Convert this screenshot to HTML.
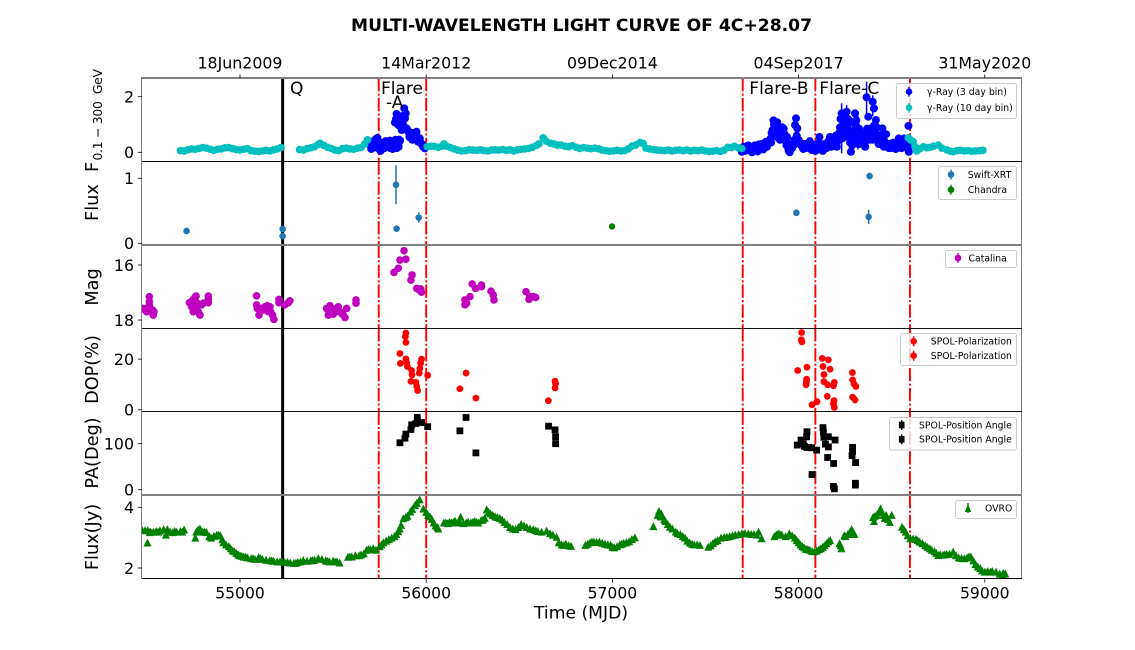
<!DOCTYPE html>
<html lang="en">
<head>
<meta charset="utf-8">
<title>Multi-wavelength light curve of 4C+28.07</title>
<style>
html,body{margin:0;padding:0;background:#fff;}
svg{display:block;font-family:"DejaVu Sans","Liberation Sans",sans-serif;filter:blur(0.35px);}
</style>
</head>
<body>
<svg id="chart" xmlns="http://www.w3.org/2000/svg" width="1135" height="650" viewBox="0 0 1135 650">
<rect width="1135" height="650" fill="#fff"/>
<text x="581.5" y="31" text-anchor="middle" font-size="17" font-weight="bold" textLength="461" lengthAdjust="spacingAndGlyphs">MULTI-WAVELENGTH LIGHT CURVE OF 4C+28.07</text>
<defs id="defs"></defs>
<g id="layers"></g>
<g id="axes"></g>
<g font-size="17.7" fill="#000">
<text transform="translate(98,172) rotate(-90)" font-size="17.7">F</text>
<text transform="translate(102,160.5) rotate(-90)" font-size="12.4" textLength="91.5" xml:space="preserve">0.1 − 300  GeV</text>
<text transform="translate(98,202.6) rotate(-90)" text-anchor="middle">Flux</text>
<text transform="translate(98,287) rotate(-90)" text-anchor="middle">Mag</text>
<text transform="translate(98,369.5) rotate(-90)" text-anchor="middle">DOP(%)</text>
<text transform="translate(98,453) rotate(-90)" text-anchor="middle">PA(Deg)</text>
<text transform="translate(98,537) rotate(-90)" text-anchor="middle">Flux(Jy)</text>
</g>
<text x="581" y="618.5" text-anchor="middle" font-size="17.2">Time (MJD)</text>
<g font-size="17" fill="#000">
<text x="290" y="94">Q</text>
<text x="381" y="94">Flare</text>
<text x="386" y="108">-A</text>
<text x="749.3" y="94">Flare-B</text>
<text x="819.3" y="94">Flare-C</text>
</g>
<g id="legends"></g>
</svg>
<script>
// ---------- Data ----------
const xTickValues=[55000,56000,57000,58000,59000];
const xTickLabels=['55000','56000','57000','58000','59000'];
const topTickLabels=['18Jun2009','14Mar2012','09Dec2014','04Sep2017','31May2020'];
const gammaTicks=[0,2];
const swiftTicks=[0,1];
const magTicks=[16,18];
const dopTicks=[0,20];
const paTicks=[0,100];
const radioTicks=[2,4];
const quiescentEpochs=[55229];
const flareEdges=[55745,56000,57700,58090,58598];

const gammaTenMjd=[54680,54700,54720,54740,54760,54780,54800,54820,54840,54860,54880,54900,54920,54940,54960,54980,55000,55020,55040,55060,55080,55100,55120,55140,55160,55180,55200,55220,
55320,55340,55360,55380,55400,55420,55430,55450,55470,55490,55510,55530,55550,55570,55590,55610,55630,55650,55670,55685,
56005,56025,56045,56065,56085,56095,56110,56130,56150,56170,56190,56210,56230,56250,56270,56290,56310,56330,56350,56370,56390,56410,56430,56450,56470,56490,56510,56530,56550,56570,56590,56605,56628,56645,56665,56685,56705,56725,56745,56765,56785,56805,56825,56845,56865,56885,56905,56925,56945,56965,56985,57005,57025,57045,57065,57085,57105,57125,57148,57165,57180,57200,57220,57240,57260,57280,57300,57320,57340,57360,57380,57400,57420,57440,57460,57480,57500,57520,57540,57560,57580,57600,57620,57640,57655,57675,57695,
58589,58600,58616,58625,58634,58650,58670,58690,58706,58725,58750,58770,58795,58815,58831,58850,58870,58890,58910,58930,58950,58974,58990];
const gammaTenFlux=[.06,.05,.09,.12,.11,.14,.17,.15,.11,.07,.11,.12,.16,.17,.13,.10,.08,.11,.13,.06,.04,.03,.05,.07,.05,.09,.12,.17,
.10,.08,.13,.16,.20,.28,.33,.25,.18,.14,.08,.06,.13,.15,.12,.11,.15,.17,.30,.45,
.2,.22,.21,.18,.22,.3,.22,.17,.12,.08,.05,.06,.09,.08,.07,.09,.06,.05,.08,.09,.08,.10,.07,.09,.05,.09,.11,.12,.14,.18,.24,.30,.52,.40,.33,.30,.26,.26,.22,.20,.24,.18,.14,.17,.15,.13,.15,.13,.08,.06,.04,.05,.07,.05,.06,.12,.22,.26,.35,.32,.15,.12,.10,.08,.07,.06,.08,.05,.07,.08,.06,.08,.05,.07,.06,.08,.05,.03,.04,.06,.03,.08,.18,.17,.22,.16,.14,
.52,.45,.38,.20,.05,.12,.20,.16,.18,.22,.26,.15,.09,.04,.02,.06,.07,.05,.06,.04,.05,.06,.07];

const gammaThreeMjd=[55700,55705,55710,55718,55725,55730,55738,55745,55750,55755,55760,55768,55775,55782,55790,55797,55805,55812,55820,55828,55835,55842,55850,55855,
55832,55841,55850,55859,55868,55882,55886,55895,55905,55913,55922,55931,55940,55948,55957,55966,55975,55984,55993,
57695,57705,57712,57720,57730,57740,57750,57760,57770,57780,57790,57800,57810,57820,57830,57840,57850,57855,57860,57865,57872,57878,57885,57890,57897,57905,57912,57920,57930,57938,57945,57952,57960,57968,57975,57981,57986,57993,58000,58010,58020,58030,58040,58050,58060,58070,58080,58090,58100,58105,58112,58120,58130,58140,58150,58160,58168,58175,58185,58190,
58195,58205,58215,58222,58228,58231,58235,58240,58245,58249,58252,58258,58262,58268,58272,58276,58281,58285,58290,58296,58303,58310,58315,58320,58325,58332,58338,58345,58352,58358,58362,58365,58368,58374,58378,58384,58390,58395,58398,58403,58405,58410,58415,58420,58426,58432,58438,58444,58450,58455,58462,58470,58478,58485,58492,58500,58508,58515,58522,58530,58538,58545,58552,58560,58568,58575,58582,58588,58590,58592,58595,
55702,55712,55722,55735,55742,55748,55758,55765,55772,55778,55785,55793,55800,55808,55815,55825,55832,55845,55852,55860,55900,55910,55920,55925,55935,55945,55952,55960,55970,55980,55990,55875,55870,55890,55845,55838,
57698,57708,57716,57725,57735,57745,57755,57765,57775,57785,57795,57805,57815,57825,57835,57845,57852,57858,57868,57875,57882,57893,57900,57908,57915,57925,57935,57942,57948,57956,57965,57972,57978,57990,57996,58005,58015,58025,58035,58045,58055,58065,58075,58085,58095,58110,58117,58125,58135,58145,58155,58165,58172,58180,
58200,58210,58218,58225,58238,58243,58255,58265,58270,58279,58288,58293,58300,58306,58313,58318,58328,58335,58342,58348,58355,58360,58372,58381,58387,58392,58400,58408,58418,58424,58430,58436,58442,58448,58458,58466,58474,58482,58488,58496,58504,58512,58518,58526,58534,58542,58549,58556,58564,58572,58579,58585];
const gammaThreeFlux=[.25,.12,.30,.40,.18,.48,.52,.30,.10,.05,.20,.35,.15,.40,.30,.20,.42,.25,.12,.38,.45,.15,.30,.45,
1.07,1.38,.98,1.16,.80,1.58,1.22,.86,.72,.62,.70,.56,.48,.74,.38,.50,.30,.20,.14,
.02,.20,.05,.15,.25,.10,.00,.20,.10,.03,.20,.30,.10,.35,.20,.40,.50,.70,.80,1.15,1.10,.95,1.08,.75,.60,.65,.90,.85,.40,.55,.10,.00,.20,.30,.40,.98,1.22,.86,.45,.35,.20,.30,.15,.30,.40,.08,.20,.05,.30,.10,.55,.20,.05,.30,.15,.40,.55,.20,.35,.25,
.30,.20,.55,.90,.75,1.40,.50,1.10,.80,1.16,.60,1.46,.90,.55,1.05,.35,.02,.70,.40,1.10,1.40,1.15,.65,.30,.85,.50,.35,.70,.45,.20,.55,1.98,.85,1.28,.60,.70,.85,.45,1.82,.95,1.58,.70,1.16,.90,.55,.45,.30,.60,.86,.30,.40,.65,.25,.15,.30,.18,.35,.20,.12,.30,.50,.20,.15,.38,.50,.28,.18,.35,.95,.02,.20,
.35,.2,.3,.35,.15,.3,.3,.12,.28,.3,.2,.38,.35,.15,.35,.25,.3,.4,.2,.42,.8,.55,.6,.45,.5,.6,.55,.45,.35,.28,.2,1.0,1.3,1.4,1.1,1.2,
.1,.1,.2,.08,.18,.12,.15,.25,.12,.28,.15,.3,.25,.38,.3,.45,.35,.55,1.0,.8,.75,.5,.45,.75,.55,.65,.25,.3,.05,.12,.15,.25,.45,.6,.35,.3,.25,.12,.22,.3,.2,.15,.28,.15,.15,.2,.3,.12,.18,.25,.3,.2,.4,.3,
.6,.4,.7,1.2,.85,1.35,.75,1.2,.7,.5,.25,.6,.8,1.0,.4,.55,.3,.65,.4,.55,.35,.7,.75,.45,.5,.65,.6,.8,.65,.4,.3,.5,.35,.55,.2,.25,.3,.3,.22,.15,.25,.3,.15,.22,.35,.3,.25,.28,.18,.35,.2,.25];
const gammaBarMjd=[58231,58258,58319,58365,58398,55838];
const gammaBarLow=[-.04,.90,.10,1.28,1.30,.90];
const gammaBarHigh=[1.76,1.70,1.30,2.54,2.05,1.25];

const swiftMjd=[54713,55229,55229,55838,55841,55960,57988,58381,58376];
const swiftFlux=[.19,.22,.11,.90,.225,.395,.47,1.035,.405];
const swiftErr=[.03,.02,.02,.30,.02,.08,.05,.05,.11];
const chandraMjd=[56998];
const chandraFlux=[.26];

const catalinaMjd=[54481,54490,54499,54508,54513,54513,54513,54531,54534,54538,54499,54485,
54728,54740,54749,54758,54764,54749,54767,54776,54785,54794,54803,54830,54830,54830,54770,54758,54740,
55089,55089,55093,55102,55107,55116,55125,55134,55147,55161,55165,55175,55182,55152,55209,55209,55241,55268,55260,
55465,55474,55483,55492,55501,55515,55528,55537,55546,55555,55564,55573,55474,55492,55519,55623,55623,
55827,55850,55859,55881,55891,55924,55918,55949,55963,55975,55970,
56208,56208,56217,56235,56247,56265,56297,56297,56348,56360,56364,
56536,56552,56575,56588,56556];
const catalinaMag=[17.58,17.64,17.70,17.58,17.33,17.15,17.45,17.64,17.82,17.70,17.67,17.60,
17.37,17.33,17.25,17.18,17.13,17.70,17.58,17.70,17.82,17.45,17.39,17.13,17.25,17.37,17.39,17.52,17.52,
17.12,17.45,17.58,17.82,17.64,17.58,17.64,17.52,17.48,17.52,17.70,17.82,17.98,17.70,17.25,17.37,17.45,17.30,17.37,
17.58,17.82,17.48,17.70,17.79,17.70,17.52,17.70,17.76,17.82,17.91,17.58,17.64,17.58,17.58,17.27,17.39,
16.27,16.12,15.82,15.48,15.79,16.36,16.55,16.85,16.91,16.99,16.87,
17.27,17.45,17.39,17.15,16.69,16.85,16.79,16.73,16.95,17.09,17.27,
16.97,17.25,17.15,17.18,17.15];

const dopMjd=[55891,55888,55891,55859,55861,55891,55895,55899,55922,55924,55918,55945,55949,55954,55975,55970,55966,55963,56008,56181,56214,56267,56656,56692,56695,56692,
58016,58015,58018,57995,58045,58043,58040,58042,58072,58099,58127,58160,58131,58169,58136,58136,58156,58192,58187,58154,58190,58187,58192,58289,58290,58297,58308,58290,58303];
const dopValues=[30.3,28.9,26.6,22.2,18.3,20.1,18.6,17.1,15.5,13.8,11.2,10.8,9.2,7.6,20,18.4,16.4,14.5,13.6,8.3,14.5,4.6,3.6,11.3,10.3,8.6,
30.5,27.6,26.8,15.5,16.8,12.1,9.9,11.1,2,3.2,20.3,19.7,17.1,16,13.9,11.1,9.9,10.8,9.5,5.3,3.6,2.4,.9,14.7,11.8,10.3,9.2,5,3.9];

const paMjd=[55859,55886,55891,55918,55922,55945,55952,55954,55975,56008,56181,56214,56267,56657,56692,56695,56695,
57993,58013,58045,58043,58043,58070,58097,58072,58131,58133,58136,58160,58196,58144,58160,58156,58188,58187,58192,58290,58290,58287,58306,58305,58305,58025,58032,58055];
const paValues=[102,112,121,131,141,144,157,149,146,137,128,157,80,138,130,115,100,
97,108,126,115,92,91,86,33,135,125,114,115,108,99,93,70,57,7,2,92,83,74,59,14,10,100,94,92];

const radioMjd=[54475,54490,54505,54503,54520,54535,54550,54570,54590,54602,54610,54625,54640,54660,54680,54700,
54760,54765,54775,54785,54800,54820,54845,54860,54875,54895,54910,54925,54940,54960,54980,55000,55020,55040,55060,55080,55100,55120,55140,55160,55180,55200,55225,55255,55290,55310,55340,55360,55380,55400,55420,55440,55460,55480,55500,55520,55535,
55580,55600,55620,55650,55665,55680,55700,55730,55750,55770,55800,55830,55850,55865,55877,55900,55915,55940,55965,55985,56000,56010,56030,56050,56060,56065,
56095,56115,56135,56155,56170,56185,56200,56215,56240,56260,56280,56295,56315,56325,56345,56370,56395,56420,56450,56480,56510,56540,56575,56600,56647,56680,56700,56727,56750,56778,
56855,56880,56900,56930,56960,56990,57010,57040,57060,57090,57121,
57220,57250,57262,57270,57285,57309,57350,57365,57390,57415,57440,57470,
57515,57540,57565,57600,57630,57660,57695,57730,57760,57785,57801,57870,57890,57910,57950,57980,58000,58020,58040,58060,58085,58110,58130,58150,58170,58220,58230,58245,58265,58285,58300,
58400,58410,58420,58440,58455,58470,58490,58500,58555,58575,58600,58630,58650,58680,58705,58740,58750,58775,58795,58830,58860,58890,58925,58950,58975,59000,59040,59080,59100,59110,
54515,54560,54650,54690,54810,54835,54885,54905,54950,54970,54990,55010,55030,55070,55110,55170,55215,55240,55270,55300,55325,55390,55470,55510,55590,55640,55690,55715,55760,55785,55815,55840,55858,55890,55925,55950,56020,56040,56105,56125,56145,56178,56225,56250,56270,56305,56335,56357,56382,56408,56435,56465,56495,56525,56558,56588,56620,56665,56712,56740,56765,
56868,56890,56915,56945,56975,57000,57025,57050,57075,57105,
57243,57258,57278,57297,57322,57340,57378,57402,57428,57455,57528,57552,57583,57615,57645,57678,57712,57745,57775,57880,57900,57930,57965,57990,58010,58030,58050,58072,58098,58120,58140,58160,58225,58252,58275,58292,
58405,58430,58448,58463,58480,58565,58585,58615,58640,58665,58692,58715,58730,58760,58785,58810,58845,58875,58905,58915,58938,58962,58985,59015,59030,59060,59095];
const radioFlux=[3.25,3.25,3.25,2.84,3.2,3.2,3.22,3.24,3.28,3.1,3.28,3.2,3.18,3.2,3.22,3.27,
3.0,3.2,3.27,3.3,3.2,3.18,3.0,3.06,3.1,3.07,2.85,2.78,2.72,2.58,2.5,2.42,2.38,2.35,2.32,2.3,2.36,2.3,2.27,2.26,2.24,2.22,2.22,2.2,2.17,2.2,2.26,2.24,2.25,2.27,2.33,2.3,2.25,2.22,2.24,2.22,2.18,
2.37,2.38,2.42,2.45,2.48,2.6,2.62,2.6,2.72,2.85,2.95,3.05,3.22,3.42,3.64,3.72,3.86,4.08,4.26,3.96,3.85,3.75,3.62,3.4,3.35,3.3,
3.5,3.48,3.5,3.56,3.5,3.69,3.48,3.5,3.5,3.55,3.5,3.58,3.65,3.93,3.8,3.7,3.65,3.52,3.35,3.28,3.45,3.35,3.28,3.22,3.23,3.1,3.03,2.78,2.8,2.73,
2.76,2.85,2.87,2.87,2.8,2.76,2.68,2.78,2.83,2.88,3.01,
3.38,3.88,3.8,3.7,3.55,3.36,3.15,3.12,3.0,2.84,2.78,2.76,
2.7,2.82,2.92,3.02,3.05,3.1,3.14,3.14,3.12,3.2,2.98,3.05,3.14,3.1,3.14,3.0,2.85,2.72,2.63,2.6,2.55,2.62,2.7,2.82,2.92,2.82,2.65,3.08,3.12,3.28,3.12,
3.68,3.72,3.75,3.96,3.75,3.75,3.52,3.75,3.36,3.2,2.98,2.96,2.87,2.75,2.65,2.5,2.43,2.44,2.46,2.54,2.35,2.32,2.38,2.13,2.0,1.88,1.9,1.82,1.84,1.82,
3.18,3.2,3.22,3.2,3.2,3.05,3.1,2.95,2.65,2.55,2.45,2.4,2.37,2.32,2.33,2.25,2.22,2.2,2.18,2.17,2.22,2.26,2.24,2.22,2.38,2.42,2.62,2.65,2.78,2.9,3.0,3.12,3.3,3.68,3.95,4.15,3.7,3.5,3.5,3.52,3.52,3.55,3.52,3.52,3.52,3.6,3.85,3.75,3.68,3.6,3.45,3.3,3.35,3.4,3.3,3.25,3.2,3.15,2.85,2.76,2.75,
2.8,2.87,2.86,2.83,2.78,2.7,2.72,2.8,2.85,2.95,
3.75,3.7,3.6,3.45,3.3,3.2,3.05,2.9,2.8,2.78,2.75,2.88,3.0,3.03,3.08,3.12,3.15,3.12,3.1,3.1,3.12,3.05,3.08,2.92,2.78,2.68,2.62,2.56,2.58,2.65,2.75,2.88,2.75,3.05,3.18,3.2,
3.55,3.85,3.85,3.65,3.62,3.28,3.08,2.97,2.92,2.82,2.7,2.6,2.55,2.45,2.45,2.47,2.42,2.33,2.35,2.38,2.25,2.05,1.92,1.9,1.88,1.88,1.8];

// ---------- Axis functions ----------
const SVGNS='http://www.w3.org/2000/svg';
const plotLeft=142, plotRight=1021;
function xScale(mjd){return 240+(mjd-55000)*0.1862;}
function yGamma(v){return 152.3-v*27.8;}
function ySwift(v){return 243.3-v*65;}
function yMag(v){return 265+(v-16)*27.5;}
function yDop(v){return 409.8-v*2.535;}
function yPa(v){return 489.7-v*0.46;}
function yRadio(v){return 568-(v-2)*30.35;}

function make(tag,parent,attrs){
  const el=document.createElementNS(SVGNS,tag);
  for(const k in attrs){el.setAttribute(k,attrs[k]);}
  parent.appendChild(el);
  return el;
}
const layers=document.getElementById('layers');
const axes=document.getElementById('axes');
const defs=document.getElementById('defs');
const legends=document.getElementById('legends');

function panelGroup(name,top,bottom){
  const id='clip-'+name;
  const cp=make('clipPath',defs,{id:id});
  make('rect',cp,{x:plotLeft,y:top,width:plotRight-plotLeft,height:bottom-top});
  const g=make('g',layers,{'clip-path':'url(#'+id+')'});
  
  
  return g;
}
const panelGamma=panelGroup('gamma-ray',78,161.5);
const panelSwift=panelGroup('x-ray',161.5,244.7);
const panelMag=panelGroup('optical',244.7,328.2);
const panelDop=panelGroup('polarization',328.2,411.4);
const panelPa=panelGroup('position-angle',411.4,495);
const panelRadio=panelGroup('radio',495,578.2);
const allPanels=[[panelGamma,78,161.5],[panelSwift,161.5,244.7],[panelMag,244.7,328.2],[panelDop,328.2,411.4],[panelPa,411.4,495],[panelRadio,495,578.2]];

// reference epochs in every panel
allPanels.forEach(function(p){
  flareEdges.forEach(function(m){
    const l=make('line',p[0],{x1:xScale(m),x2:xScale(m),y1:p[1],y2:p[2],stroke:'#ff0000','stroke-width':1.9,'stroke-dasharray':'13.3,2.3,2,2.3'});
    
    
  });
  quiescentEpochs.forEach(function(m){
    const l=make('line',p[0],{x1:xScale(m),x2:xScale(m),y1:p[1],y2:p[2],stroke:'#000','stroke-width':3});
    
    
  });
});

function dots(parent,xs,ys,yFn,color,r,name){
  xs.forEach(function(m,i){
    const c=make('circle',parent,{cx:xScale(m),cy:yFn(ys[i]),r:r,fill:color});
    
    
  });
}
function squares(parent,xs,ys,yFn,color,s,name){
  xs.forEach(function(m,i){
    const c=make('rect',parent,{x:xScale(m)-s/2,y:yFn(ys[i])-s/2,width:s,height:s,fill:color});
    
    
  });
}
function triangles(parent,xs,ys,yFn,color,s,name){
  xs.forEach(function(m,i){
    const px=xScale(m), py=yFn(ys[i]);
    const c=make('polygon',parent,{points:(px-s/2)+','+(py+s/2)+' '+(px+s/2)+','+(py+s/2)+' '+px+','+(py-s/2),fill:color});
    
    
  });
}

// Gamma ray
gammaBarMjd.forEach(function(m,i){
  const b=make('line',panelGamma,{x1:xScale(m),x2:xScale(m),y1:yGamma(gammaBarLow[i]),y2:yGamma(gammaBarHigh[i]),stroke:'#0000ff','stroke-width':1.5});
  
  
});
dots(panelGamma,gammaThreeMjd,gammaThreeFlux,yGamma,'#0000ff',4,'gamma-3day-point');
dots(panelGamma,gammaTenMjd,gammaTenFlux,yGamma,'#00bfbf',3.8,'gamma-10day-point');

// X-ray
swiftMjd.forEach(function(m,i){
  const b=make('line',panelSwift,{x1:xScale(m),x2:xScale(m),y1:ySwift(swiftFlux[i]-swiftErr[i]),y2:ySwift(swiftFlux[i]+swiftErr[i]),stroke:'#1f77b4','stroke-width':1.5});
  
  
});
dots(panelSwift,swiftMjd,swiftFlux,ySwift,'#1f77b4',3.3,'swift-xrt-point');
dots(panelSwift,chandraMjd,chandraFlux,ySwift,'#008000',3.2,'chandra-point');

// Optical / polarization
dots(panelMag,catalinaMjd,catalinaMag,yMag,'#bf00bf',3.8,'catalina-point');
dots(panelDop,dopMjd,dopValues,yDop,'#ff0000',3.4,'dop-point');
squares(panelPa,paMjd,paValues,yPa,'#000',6.8,'position-angle-point');

// Radio
triangles(panelRadio,radioMjd,radioFlux,yRadio,'#008000',8,'ovro-point');

// ---------- Frame, ticks, labels ----------
function spine(x,y,w,h,color,name){
  const r=make('rect',axes,{x:x,y:y,width:w,height:h,fill:color});
  
  
}
spine(141,77,1,502,'#808080','left-spine');
spine(142,77,880,2,'#808080','top-spine');
spine(1021,77,1,502,'#808080','right-spine');
spine(142,161,880,1,'#000','panel-divider-1');
spine(142,244,880,2,'#808080','panel-divider-2');
spine(142,328,880,1,'#111','panel-divider-3');
spine(142,411,880,1,'#111','panel-divider-4');
spine(142,494,880,2,'#808080','panel-divider-5');
spine(142,578,880,1,'#000','bottom-spine');

function yTicks(values,yFn,labels,name){
  values.forEach(function(v,i){
    const y=yFn(v);
    const t=make('line',axes,{x1:138,x2:142,y1:y,y2:y,stroke:'#000','stroke-width':.8});
    
    
    const txt=make('text',axes,{x:134,y:y+5.8,'text-anchor':'end','font-size':15.8});
    
    
    txt.textContent=labels[i];
  });
}
yTicks(gammaTicks,yGamma,gammaTicks,'gamma-axis');
yTicks(swiftTicks,ySwift,swiftTicks,'xray-axis');
yTicks(magTicks,yMag,magTicks,'magnitude-axis');
yTicks(dopTicks,yDop,dopTicks,'dop-axis');
yTicks(paTicks,yPa,paTicks,'pa-axis');
yTicks(radioTicks,yRadio,radioTicks,'radio-axis');

xTickValues.forEach(function(v,i){
  const x=xScale(v);
  const t=make('line',axes,{x1:x,x2:x,y1:579,y2:582.5,stroke:'#000','stroke-width':.8});
  
  
  const lab=make('text',axes,{x:x,y:598.3,'text-anchor':'middle','font-size':15.6});
  
  
  lab.textContent=xTickLabels[i];
  const tt=make('line',axes,{x1:x,x2:x,y1:74.5,y2:78,stroke:'#000','stroke-width':.8});
  
  
  const tl=make('text',axes,{x:x,y:68.3,'text-anchor':'middle','font-size':15.8});
  
  
  tl.textContent=topTickLabels[i];
});

// ---------- Legends ----------
function legendBox(x,y,w,h,name){
  const g=make('g',legends,{});
  
  
  const r=make('rect',g,{x:x+.5,y:y+.5,width:w,height:h,rx:2,ry:2,fill:'#fff','fill-opacity':.8,stroke:'#cccccc','stroke-width':1});
  
  
  return g;
}
function legendEntry(g,kind,mx,tx,y,color,label){
  const bar=make('line',g,{x1:mx,x2:mx,y1:y-5,y2:y+5,stroke:color,'stroke-width':1.4});
  
  
  let m;
  if(kind==='circle'){m=make('circle',g,{cx:mx,cy:y,r:3.3,fill:color});}
  else if(kind==='square'){m=make('rect',g,{x:mx-2.8,y:y-3.4,width:5.6,height:6.8,fill:color});}
  else{m=make('polygon',g,{points:(mx-3.2)+','+(y+4)+' '+(mx+3.2)+','+(y+4)+' '+mx+','+(y-4),fill:color});}
  
  
  const t=make('text',g,{x:tx,y:y+3.3,'font-size':9.3,fill:'#000'});
  
  
  t.textContent=label;
}
const lg1=legendBox(896,83,120,35,'gamma-legend');
legendEntry(lg1,'circle',909,927,91.7,'#0000ff','γ-Ray (3 day bin)');
legendEntry(lg1,'circle',909,927,107.7,'#00bfbf','γ-Ray (10 day bin)');
const lg2=legendBox(938,166,78,33,'xray-legend');
legendEntry(lg2,'circle',951,967.7,174.5,'#1f77b4','Swift-XRT');
legendEntry(lg2,'circle',951,967.7,189.7,'#008000','Chandra');
const lg3=legendBox(945,250,71,17,'optical-legend');
legendEntry(lg3,'circle',958,968.5,258,'#bf00bf','Catalina');
const lg4=legendBox(900,333,116,32,'polarization-legend');
legendEntry(lg4,'circle',913.7,930.7,341.3,'#ff0000','SPOL-Polarization');
legendEntry(lg4,'circle',913.7,930.7,355.7,'#ff0000','SPOL-Polarization');
const lg5=legendBox(889,417,127,32.5,'position-angle-legend');
legendEntry(lg5,'square',901.7,919,425,'#000','SPOL-Position Angle');
legendEntry(lg5,'square',901.7,919,439.3,'#000','SPOL-Position Angle');
const lg6=legendBox(955,500,61,18,'radio-legend');
legendEntry(lg6,'triangle',968,985,508,'#008000','OVRO');
</script>
</body>
</html>
